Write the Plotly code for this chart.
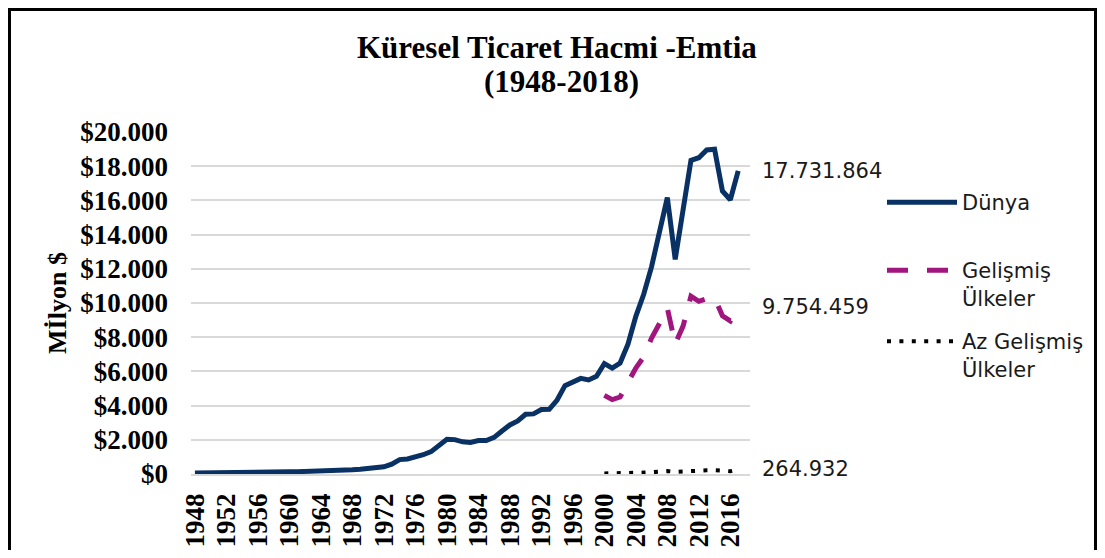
import plotly.graph_objects as go

# ---------------- data (million $) ----------------
years_world = list(range(1948, 2018))
world = [58500, 58700, 61800, 82000, 80000, 83000, 86000, 94000, 104000, 113000,
         109000, 116000, 130000, 135000, 142000, 157000, 176000, 190000, 208000, 218000,
         243000, 277000, 318000, 354000, 419000, 579000, 842000, 877000, 992000, 1128000,
         1307000, 1659000, 2036000, 2011000, 1883000, 1846000, 1956000, 1954000, 2138000, 2516000,
         2869000, 3098000, 3490000, 3515000, 3766000, 3782000, 4326000, 5168000, 5403000, 5592000,
         5503000, 5719000, 6452000, 6191000, 6492000, 7586000, 9218000, 10509000, 12131000, 14023000,
         16160000, 12555000, 15301000, 18338000, 18496000, 18952000, 18994000, 16547000, 16040000, 17731864]

years_dev = list(range(2000, 2018))
developed = [4600000, 4350000, 4500000, 5400000, 6200000, 6850000, 7950000, 8800000, 9700000,
             7600000, 8650000, 10400000, 10100000, 10250000, 10300000, 9250000, 8950000, 9754459]
least_developed = [36000, 37000, 40000, 47000, 62000, 82000, 101000, 125000, 170000,
                   127000, 158000, 198000, 205000, 212000, 218000, 168000, 160000, 264932]

tick_years = list(range(1948, 2017, 4))
y_ticks = list(range(0, 20001, 2000))

names = ["Dünya", "Gelişmiş<br>Ülkeler", "Az Gelişmiş<br>Ülkeler"]
title_lines = ["Küresel Ticaret Hacmi -Emtia", "(1948-2018)"]
y_title = "Mİlyon $"


def fmt(n):
    return f"{n:,}".replace(",", ".")


NAVY = "#0a3163"
MAGENTA = "#a0157e"
SERIF = "Liberation Serif"
SANS = "DejaVu Sans"

# figure size leaves room for the page's default 8px body margin
W, H = 1089, 542
OFF = 8
L, R, T, B = 183, 347, 124, 76
pw, ph = W - L - R, H - T - B


def px_x(p):  # window pixel -> paper
    return (p - OFF - L) / pw


def px_y(p):
    return (H - B - (p - OFF)) / ph


fig = go.Figure()
fig.add_trace(go.Scatter(x=years_world, y=[v / 1000 for v in world], mode="lines",
                         name=names[0], line=dict(color=NAVY, width=5), legend="legend"))
fig.add_trace(go.Scatter(x=years_dev, y=[v / 1000 for v in developed], mode="lines",
                         name=names[1], line=dict(color=MAGENTA, width=5, dash="21px,19px"),
                         legend="legend2"))
fig.add_trace(go.Scatter(x=years_dev, y=[v / 1000 for v in least_developed], mode="lines",
                         name=names[2], line=dict(color="#000000", width=4, dash="4px,8.4px"),
                         legend="legend3"))

# end-value labels
for series in (world, developed, least_developed):
    fig.add_annotation(x=1, xref="paper", y=series[-1] / 1000, yref="y",
                       text=fmt(series[-1]), showarrow=False, xanchor="left", xshift=10,
                       font=dict(family=SANS, size=21, color="#1a1a1a"))

# title (two lines, tight spacing)
for txt, cx, cy in ((title_lines[0], 557, 47), (title_lines[1], 561, 81)):
    fig.add_annotation(x=px_x(cx), xref="paper", y=px_y(cy), yref="paper", text=txt,
                       showarrow=False, xanchor="center", yanchor="middle",
                       font=dict(family=SERIF, size=31, color="black", weight="bold"))

# outer chart border
fig.add_shape(type="rect", xref="paper", yref="paper",
              x0=px_x(OFF + 1.5), x1=px_x(OFF + W - 1.5), y0=px_y(620), y1=px_y(OFF + 1.5),
              line=dict(color="black", width=3), fillcolor="rgba(0,0,0,0)")

leg_common = dict(xanchor="left", yanchor="top", itemwidth=70, valign="top",
                  bgcolor="rgba(0,0,0,0)", font=dict(family=SANS, size=21, color="#1a1a1a"))

fig.update_layout(
    width=W, height=H,
    margin=dict(l=L, r=R, t=T, b=B, autoexpand=False),
    paper_bgcolor="white", plot_bgcolor="white",
    separators=",.",
    showlegend=True,
    xaxis=dict(range=[1947.5, 2018.5], tickmode="array", tickvals=tick_years,
               ticktext=[str(t) for t in tick_years], tickangle=-90,
               showgrid=False, zeroline=False, showline=True, linecolor="#d9d9d9", linewidth=1.5,
               ticks="", ticklabelstandoff=7,
               tickfont=dict(family=SERIF, size=27, color="black", weight="bold")),
    yaxis=dict(range=[0, 20000], tickmode="array", tickvals=y_ticks,
               ticktext=["$" + fmt(v) for v in y_ticks],
               showgrid=True, gridcolor="#d9d9d9", gridwidth=1.5, zeroline=False, showline=False,
               ticks="", ticklabelstandoff=22,
               tickfont=dict(family=SERIF, size=27, color="black", weight="bold"),
               title=dict(text=y_title, standoff=6,
                          font=dict(family=SERIF, size=26, color="black", weight="bold"))),
    legend=dict(x=px_x(882), y=px_y(182), **leg_common),
    legend2=dict(x=px_x(882), y=px_y(250), **leg_common),
    legend3=dict(x=px_x(882), y=px_y(321), **leg_common),
)

fig.write_html("out.html")
